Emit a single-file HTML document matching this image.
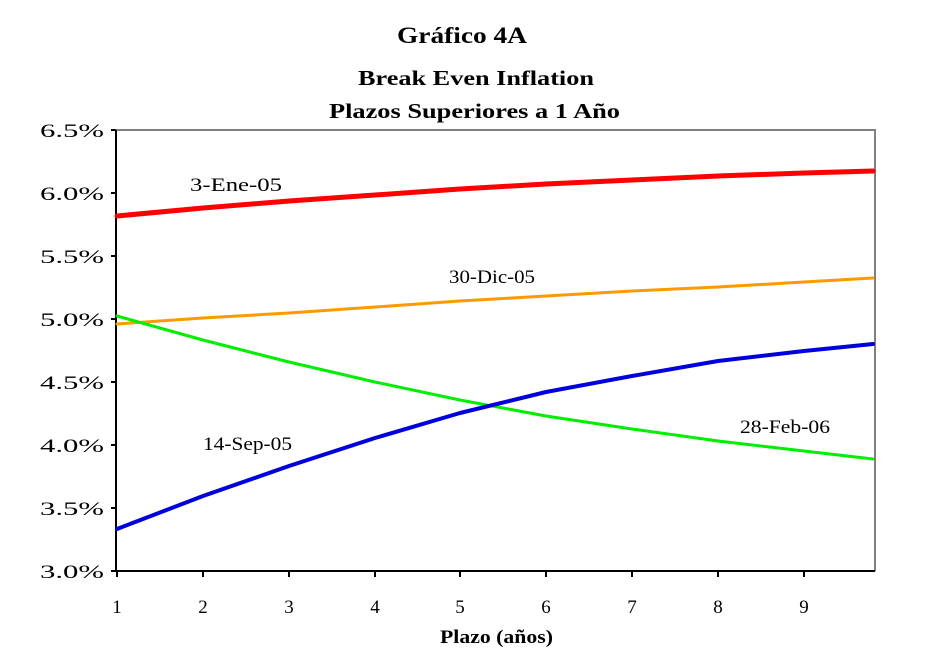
<!DOCTYPE html>
<html><head><meta charset="utf-8"><style>
body{margin:0;background:#fff}
svg{display:block}
text{font-family:"Liberation Serif",serif;fill:#000}
</style></head><body>
<svg width="943" height="658" viewBox="0 0 943 658">
<text x="397" y="43" font-size="23" font-weight="bold" textLength="130" lengthAdjust="spacingAndGlyphs">Gráfico 4A</text>
<text x="358" y="85" font-size="21" font-weight="bold" textLength="236" lengthAdjust="spacingAndGlyphs">Break Even Inflation</text>
<text x="329" y="118" font-size="21" font-weight="bold" textLength="291" lengthAdjust="spacingAndGlyphs">Plazos Superiores a 1 Año</text>
<polyline points="116,130 875,130 875,571" fill="none" stroke="#808080" stroke-width="2"/>
<polyline points="116,130 116,571 875,571" fill="none" stroke="#000" stroke-width="2"/>
<g stroke="#000" stroke-width="2">
<line x1="111" y1="130" x2="116" y2="130"/><line x1="111" y1="193" x2="116" y2="193"/><line x1="111" y1="256" x2="116" y2="256"/><line x1="111" y1="319" x2="116" y2="319"/><line x1="111" y1="382" x2="116" y2="382"/><line x1="111" y1="445" x2="116" y2="445"/><line x1="111" y1="508" x2="116" y2="508"/><line x1="111" y1="571" x2="116" y2="571"/>
<line x1="117" y1="571" x2="117" y2="577"/><line x1="203" y1="571" x2="203" y2="577"/><line x1="289" y1="571" x2="289" y2="577"/><line x1="375" y1="571" x2="375" y2="577"/><line x1="460" y1="571" x2="460" y2="577"/><line x1="546" y1="571" x2="546" y2="577"/><line x1="632" y1="571" x2="632" y2="577"/><line x1="718" y1="571" x2="718" y2="577"/><line x1="804" y1="571" x2="804" y2="577"/>
</g>
<g font-size="19">
<text x="40" y="137" textLength="64" lengthAdjust="spacingAndGlyphs">6.5%</text>
<text x="40" y="200" textLength="64" lengthAdjust="spacingAndGlyphs">6.0%</text>
<text x="40" y="263" textLength="64" lengthAdjust="spacingAndGlyphs">5.5%</text>
<text x="40" y="326" textLength="64" lengthAdjust="spacingAndGlyphs">5.0%</text>
<text x="40" y="389" textLength="64" lengthAdjust="spacingAndGlyphs">4.5%</text>
<text x="40" y="452" textLength="64" lengthAdjust="spacingAndGlyphs">4.0%</text>
<text x="40" y="515" textLength="64" lengthAdjust="spacingAndGlyphs">3.5%</text>
<text x="40" y="578" textLength="64" lengthAdjust="spacingAndGlyphs">3.0%</text>
</g>
<g font-size="19" text-anchor="middle">
<text x="117" y="613">1</text><text x="203" y="613">2</text><text x="289" y="613">3</text><text x="375" y="613">4</text><text x="460" y="613">5</text><text x="546" y="613">6</text><text x="632" y="613">7</text><text x="718" y="613">8</text><text x="804" y="613">9</text>
</g>
<text x="440" y="643" font-size="19" font-weight="bold" textLength="113" lengthAdjust="spacingAndGlyphs">Plazo (años)</text>
<g fill="none" stroke-linejoin="round" stroke-linecap="round">
<polyline stroke="#ff0000" stroke-width="5" points="117,216 203,208 289,201 375,195 460,189 546,184 632,180 718,176 804,173 873,171"/>
<polyline stroke="#ff9900" stroke-width="3" points="117,324 203,318 289,313 375,307 460,301 546,296 632,291 718,287 804,282 873,278"/>
<polyline stroke="#00ee00" stroke-width="3" points="117,316 203,340 289,362 375,382 460,400 546,416 632,429 718,441 804,451 873,459"/>
<polyline stroke="#0000dd" stroke-width="4" points="117,529 203,496 289,466 375,438 460,413 546,392 632,376 718,361 804,351 873,344"/>
</g>
<g font-size="19">
<text x="190" y="191" textLength="92" lengthAdjust="spacingAndGlyphs">3-Ene-05</text>
<text x="449" y="283" textLength="86" lengthAdjust="spacingAndGlyphs">30-Dic-05</text>
<text x="203" y="450" textLength="89" lengthAdjust="spacingAndGlyphs">14-Sep-05</text>
<text x="740" y="433" textLength="90" lengthAdjust="spacingAndGlyphs">28-Feb-06</text>
</g>
</svg>
</body></html>
